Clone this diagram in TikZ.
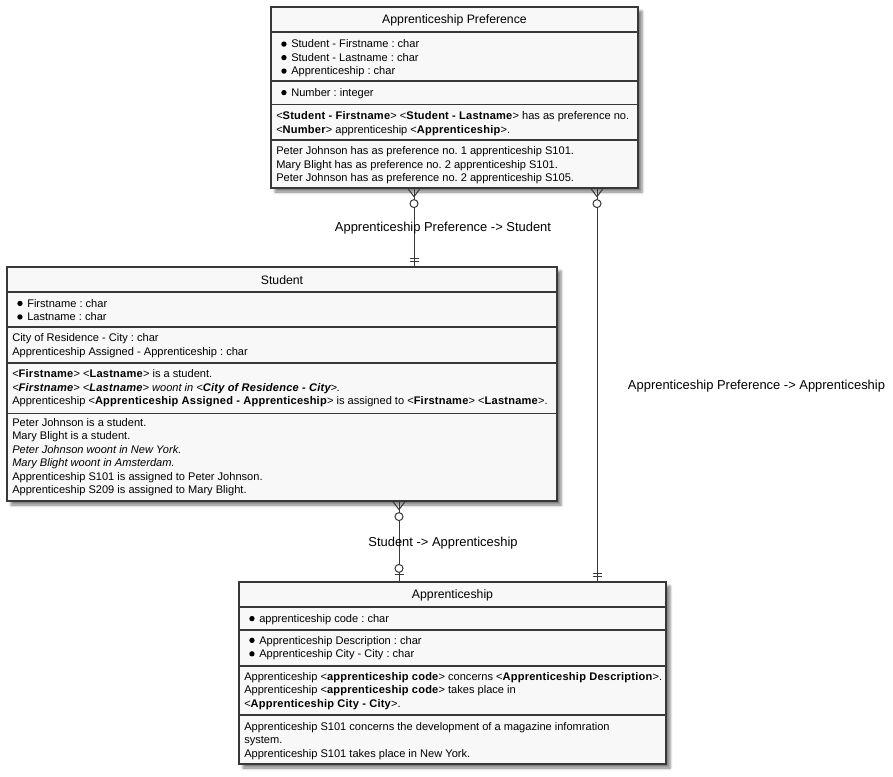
\documentclass[tikz,border=0pt]{standalone}
\usepackage{fontspec}
\setmainfont{Liberation Sans}[BoldFeatures={LetterSpace=2.0}, BoldItalicFeatures={LetterSpace=2.0}]
\usetikzlibrary{fit,calc,shadows.blur}
\frenchspacing
\definecolor{ln}{HTML}{383838}
\definecolor{bg}{HTML}{F8F8F8}
\newcommand\bul{\hspace*{3.75pt}\raisebox{0.1em}{\tikz\fill[black] (0,0) circle (2pt);}\hspace{3.5pt}}
\newcommand\bfont{\fontsize{8.3}{10.125}\selectfont\frenchspacing}
\newcommand\tfont{\fontsize{9.2}{11}\selectfont}
\newcommand\lfont{\fontsize{9.7}{11.6}\selectfont}
\tikzset{
  entity/.style={draw=ln, line width=0.9pt, fill=bg, inner sep=0pt,
    blur shadow={shadow xshift=3pt, shadow yshift=-3pt, shadow blur radius=2pt, shadow opacity=50}},
  divider/.style={draw=ln, line width=0.8pt},
  sec/.style={anchor=west, inner sep=0pt, align=left, font=\bfont, text=black},
  ttl/.style={inner sep=0pt, font=\tfont, text=black},
  rel/.style={draw=ln, line width=0.75pt},
  lbl/.style={inner sep=0pt, font=\lfont, text=black},
  crowzero/.pic={\draw[rel] (-6,0) -- (0,8) -- (6,0); \draw[rel, fill=white] (0,15) circle (4);},
  onlyone/.pic={\draw[rel] (-4.5,-8) -- (4.5,-8) (-4.5,-5) -- (4.5,-5);},
  zeroone/.pic={\draw[rel, fill=white] (0,-13) circle (4); \draw[rel] (-4.5,-7) -- (4.5,-7);}
}
\begin{document}
\begin{tikzpicture}[x=0.75pt, y=-0.75pt]
\useasboundingbox (0,0) rectangle (893,776);
% entity boxes
\node[entity, fit={(271,7) (638,188)}] (pref) {};
\node[entity, fit={(7,267) (557,501)}] (stu) {};
\node[entity, fit={(239,582) (666,764)}] (app) {};
% dividers
\foreach \y in {32,81,104.5,140} \draw[divider] (271,\y) -- (638,\y);
\foreach \y in {292,327,363,413.5} \draw[divider] (7,\y) -- (557,\y);
\foreach \y in {607,630,666,715} \draw[divider] (239,\y) -- (666,\y);
% Apprenticeship Preference
\node[ttl] (prefT) at (454.5,20) {Apprenticeship Preference};
\node[sec] (prefK) at (276,58.5) {\bul Student - Firstname : char\\\bul Student - Lastname : char\\\bul Apprenticeship : char};
\node[sec] (prefA) at (276,93.5) {\bul Number : integer};
\node[sec] (prefE) at (276,123.5) {<\textbf{Student - Firstname}> <\textbf{Student - Lastname}> has as preference no.\\<\textbf{Number}> apprenticeship <\textbf{Apprenticeship}>.};
\node[sec] (prefX) at (276,165.5) {Peter Johnson has as preference no. 1 apprenticeship S101.\\Mary Blight has as preference no. 2 apprenticeship S101.\\Peter Johnson has as preference no. 2 apprenticeship S105.};
% Student
\node[ttl] (stuT) at (282,280.5) {Student};
\node[sec] (stuK) at (12,310) {\bul Firstname : char\\\bul Lastname : char};
\node[sec] (stuA) at (12,345.5) {City of Residence - City : char\\Apprenticeship Assigned - Apprenticeship : char};
\node[sec] (stuE) at (12,388.5) {<\textbf{Firstname}> <\textbf{Lastname}> is a student.\\\textit{<\textbf{Firstname}> <\textbf{Lastname}> woont in <\textbf{City of Residence - City}>.}\\Apprenticeship <\textbf{Apprenticeship Assigned - Apprenticeship}> is assigned to <\textbf{Firstname}> <\textbf{Lastname}>.};
\node[sec] (stuX) at (12,457) {Peter Johnson is a student.\\Mary Blight is a student.\\\textit{Peter Johnson woont in New York.}\\\textit{Mary Blight woont in Amsterdam.}\\Apprenticeship S101 is assigned to Peter Johnson.\\Apprenticeship S209 is assigned to Mary Blight.};
% Apprenticeship
\node[ttl] (appT) at (452.5,595.5) {Apprenticeship};
\node[sec] (appK) at (244,619.5) {\bul apprenticeship code : char};
\node[sec] (appA) at (244,648) {\bul Apprenticeship Description : char\\\bul Apprenticeship City - City : char};
\node[sec] (appE) at (244,691) {Apprenticeship <\textbf{apprenticeship code}> concerns <\textbf{Apprenticeship Description}>.\\Apprenticeship <\textbf{apprenticeship code}> takes place in\\<\textbf{Apprenticeship City - City}>.};
\node[sec] (appX) at (244,741) {Apprenticeship S101 concerns the development of a magazine infomration\\system.\\Apprenticeship S101 takes place in New York.};
% connectors
\coordinate (c1) at (414,0);
\coordinate (c2) at (597,0);
\coordinate (c3) at (399,0);
\draw[rel] (pref.south -| c1) -- (stu.north -| c1);
\draw[rel] (pref.south -| c2) -- (app.north -| c2);
\draw[rel] (stu.south -| c3) -- (app.north -| c3);
\pic at (pref.south -| c1) {crowzero};
\pic at (stu.north -| c1) {onlyone};
\pic at (pref.south -| c2) {crowzero};
\pic at (app.north -| c2) {onlyone};
\pic at (stu.south -| c3) {crowzero};
\pic at (app.north -| c3) {zeroone};
% labels
\node[lbl] (l1) at (443,228) {Apprenticeship Preference -> Student};
\node[lbl] (l2) at (756.5,386) {Apprenticeship Preference -> Apprenticeship};
\node[lbl] (l3) at (443,543) {Student -> Apprenticeship};
\end{tikzpicture}
\end{document}
